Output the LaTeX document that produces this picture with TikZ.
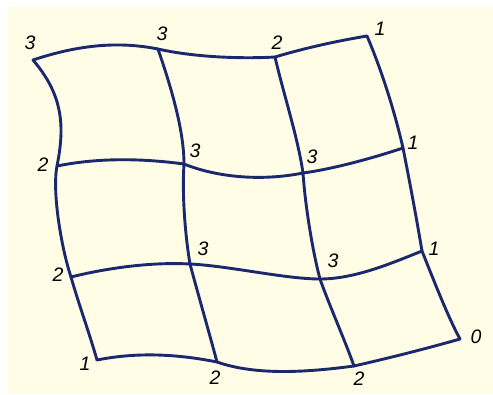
\documentclass[tikz,border=0pt]{standalone}
\usepackage{fontspec}
\setmainfont{Liberation Sans}
\definecolor{paper}{RGB}{255,253,230}
\definecolor{gridblue}{RGB}{26,40,110}
\tikzset{
  gline/.style={draw=gridblue, line width=2.9pt, line join=round, line cap=round},
  lbl/.style={font=\fontsize{19.5}{21}\selectfont\itshape, inner sep=0pt}
}
\begin{document}
\begin{tikzpicture}[x=1pt,y=-1pt]
  \useasboundingbox (0,0) rectangle (493,394);
  \fill[paper] (8,7) rectangle (493,394);
  % vertices of the bent grid
  \coordinate (a0) at (33,60);  \coordinate (a1) at (158,49);
  \coordinate (a2) at (275,57); \coordinate (a3) at (367,36);
  \coordinate (b0) at (57,166); \coordinate (b1) at (184,164);
  \coordinate (b2) at (303,173); \coordinate (b3) at (403,148);
  \coordinate (c0) at (71,277); \coordinate (c1) at (190,264);
  \coordinate (c2) at (320,279); \coordinate (c3) at (422,251);
  \coordinate (d0) at (97,360); \coordinate (d1) at (217,362);
  \coordinate (d2) at (354,366); \coordinate (d3) at (460,339);
  % rows
  \draw[gline] (a0) .. controls +(45,-15) and +(-40,-8) .. (a1)
                    .. controls +(35,8) and +(-35,2) .. (a2)
                    .. controls +(30,-9) and +(-30,5) .. (a3);
  \draw[gline] (b0) .. controls +(40,-8) and +(-45,-6) .. (b1)
                    .. controls +(35,14) and +(-40,8) .. (b2)
                    .. controls +(30,-4) and +(-30,10) .. (b3);
  \draw[gline] (c0) .. controls +(40,-10) and +(-35,-2) .. (c1)
                    .. controls +(40,2) and +(-35,0) .. (c2)
                    .. controls +(35,0) and +(-30,12) .. (c3);
  \draw[gline] (d0) .. controls +(40,-8) and +(-40,-8) .. (d1)
                    .. controls +(40,14) and +(-45,6) .. (d2)
                    .. controls +(35,-8) and +(-35,10) .. (d3);
  % columns
  \draw[gline] (a0) .. controls +(30,35) and +(8,-40) .. (b0)
                    .. controls +(-5,25) and +(-10,-30) .. (c0)
                    .. controls +(8,28) and +(-8,-28) .. (d0);
  \draw[gline] (a1) .. controls +(12,35) and +(0,-35) .. (b1)
                    .. controls +(-2,30) and +(-5,-30) .. (c1)
                    .. controls +(8,30) and +(-8,-30) .. (d1);
  \draw[gline] (a2) .. controls +(8,35) and +(-5,-35) .. (b2)
                    .. controls +(2,30) and +(-8,-30) .. (c2)
                    .. controls +(10,28) and +(-10,-28) .. (d2);
  \draw[gline] (a3) .. controls +(15,35) and +(-8,-35) .. (b3)
                    .. controls +(6,30) and +(-5,-30) .. (c3)
                    .. controls +(12,30) and +(-12,-22) .. (d3);
  % labels
  \node[lbl] (la0) at (30,43) {3};
  \node[lbl] (la1) at (162,34) {3};
  \node[lbl] (la2) at (277,43) {2};
  \node[lbl] (la3) at (380,29) {1};
  \node[lbl] (lb0) at (43,165) {2};
  \node[lbl] (lb1) at (195,151) {3};
  \node[lbl] (lb2) at (312,157) {3};
  \node[lbl] (lb3) at (413,143) {1};
  \node[lbl] (lc0) at (58,275) {2};
  \node[lbl] (lc1) at (203,249) {3};
  \node[lbl] (lc2) at (333,261) {3};
  \node[lbl] (lc3) at (434,249) {1};
  \node[lbl] (ld0) at (85,364) {1};
  \node[lbl] (ld1) at (215,378) {2};
  \node[lbl] (ld2) at (359,379) {2};
  \node[lbl] (ld3) at (476,337) {0};
\end{tikzpicture}
\end{document}
